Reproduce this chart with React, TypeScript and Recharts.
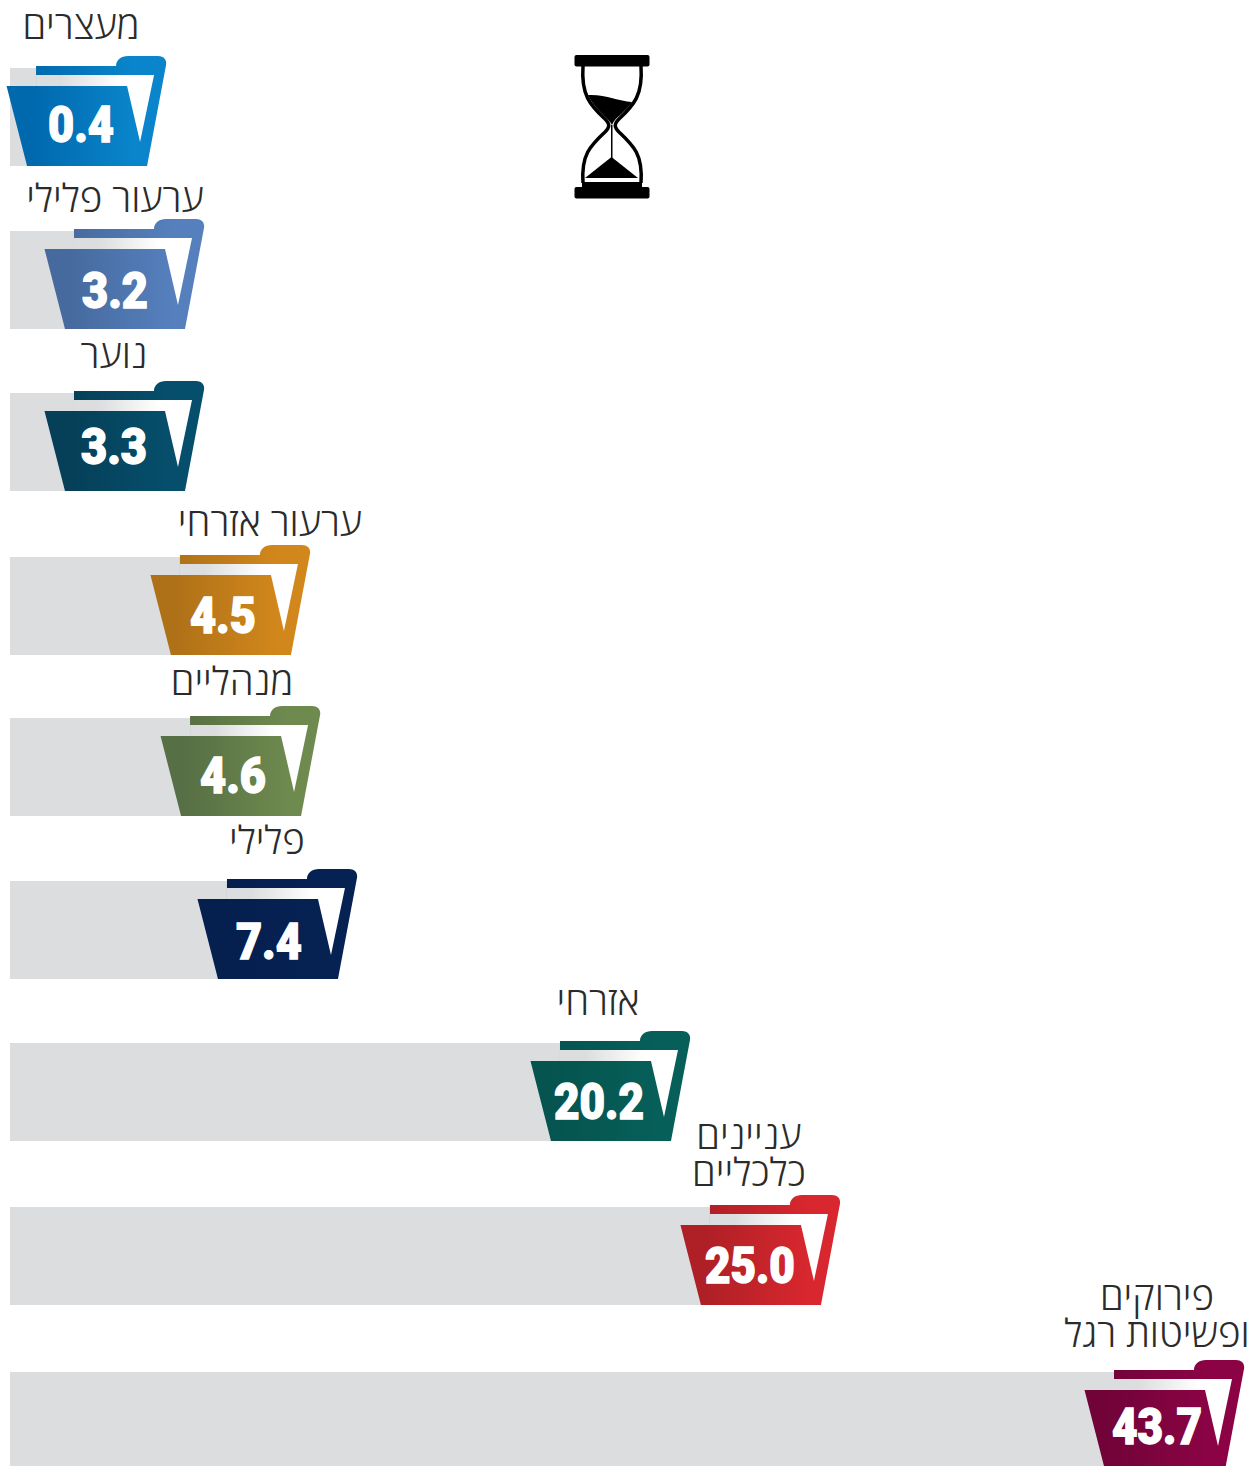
import { BarChart, Bar, XAxis, YAxis, LabelList } from 'recharts';

const categories = [
  'מעצרים',
  'ערעור פלילי',
  'נוער',
  'ערעור אזרחי',
  'מנהליים',
  'פלילי',
  'אזרחי',
  'עניינים\nכלכליים',
  'פירוקים\nופשיטות רגל',
];

// the numbers printed on the folders
const printedValues = ['0.4', '3.2', '3.3', '4.5', '4.6', '7.4', '20.2', '25.0', '43.7'];

// the bars in the picture are not proportional to the printed numbers,
// so this is the length, in the units of the last bar
const drawnLengths = [1.07, 2.57, 2.57, 6.76, 7.16, 8.62, 21.79, 27.72, 43.7];

const darkColors = ['#0068ad', '#466a9e', '#053f58', '#ae7118', '#576f44', '#051f4f', '#05544f', '#ae2026', '#720339'];
const lightColors = ['#0a85cb', '#5580bd', '#064f6c', '#d2871c', '#6f8a4f', '#052253', '#075f59', '#d8272e', '#8c0345'];

// hand nudges, the rows in the original are not laid out quite evenly
const rowShift = [0, 0, -1, 0, -2, -2, -3, -2, 0];
const valueShift = [
  [4, -2], [0, 1], [-1, -5], [2, 0], [2, -1], [1, 2], [-2, 0], [-1, 0], [2, -4],
];
const labelShift = [
  [4, -5], [0, 5], [-1, -1], [49, 3], [1, 1], [-1, -3], [-3, -4], [-2, 3], [2, -1],
];

const chartData = categories.map((name, i) => ({
  name,
  length: drawnLengths[i],
  value: printedValues[i],
}));

const PIXELS_PER_UNIT = 1105 / 43.7;
const PLOT_WIDTH = 1242;
const ROW = 163;
const FOLDER_TAIL = 129;

function FolderBar(props: any) {
  const { x, y, width, height, index } = props;
  const T = y + rowShift[index];
  const R = x + width + FOLDER_TAIL;
  const outer = [
    `M${R - 130} ${T - 2}`,
    `L${R - 50} ${T - 2}`,
    `C${R - 50} ${T - 8} ${R - 45} ${T - 12} ${R - 38} ${T - 12}`,
    `L${R - 8} ${T - 12}`,
    `C${R - 2} ${T - 12} ${R + 1} ${T - 8} ${R} ${T - 3}`,
    `L${R - 19} ${T + 98}`,
    `L${R - 139} ${T + 98}`,
    `L${R - 159.5} ${T + 18}`,
    `L${R - 130} ${T + 18}`,
    'Z',
  ].join(' ');
  const paper = [
    `M${R - 130} ${T + 7}`,
    `L${R - 12} ${T + 7}`,
    `L${R - 26} ${T + 74}`,
    `L${R - 39} ${T + 18}`,
    `L${R - 130} ${T + 18}`,
    'Z',
  ].join(' ');
  return (
    <g>
      <defs>
        <linearGradient id={`front${index}`} gradientUnits="userSpaceOnUse" x1={R - 159} x2={R} y1={0} y2={0}>
          <stop offset="0.15" stopColor={darkColors[index]} />
          <stop offset="0.8" stopColor={lightColors[index]} />
        </linearGradient>
        <linearGradient id={`paper${index}`} gradientUnits="userSpaceOnUse" x1={R - 129} x2={R - 12} y1={0} y2={0}>
          <stop offset="0.2" stopColor="#dcddde" />
          <stop offset="0.72" stopColor="#ffffff" />
        </linearGradient>
      </defs>
      <rect x={x} y={T} width={width + 1} height={height} fill="#dcddde" />
      <path d={outer} fill={`url(#front${index})`} />
      <path d={paper} fill={`url(#paper${index})`} />
    </g>
  );
}

function ValueText(props: any) {
  const { x, y, width, index, value } = props;
  const R = x + width + FOLDER_TAIL;
  const text = String(value);
  return (
    <text
      x={R - 89 + valueShift[index][0]}
      y={y + rowShift[index] + 76 + valueShift[index][1]}
      textAnchor="middle"
      fill="#ffffff"
      stroke="#ffffff"
      strokeWidth={1.4}
      fontFamily="Roboto, sans-serif"
      fontWeight={900}
      fontSize={50}
      textLength={text.length === 3 ? 66 : 90}
      lengthAdjust="spacingAndGlyphs"
    >
      {text}
    </text>
  );
}

function CategoryText(props: any) {
  const { x, y, width, index, value } = props;
  const R = x + width + FOLDER_TAIL;
  const lines = String(value).split('\n');
  const cx = R - 89 + labelShift[index][0];
  const bottom = y + rowShift[index] - 24 + labelShift[index][1];
  return (
    <text
      textAnchor="middle"
      direction="rtl"
      fill="#2b2b2b"
      fontFamily="'Open Sans', sans-serif"
      fontWeight={300}
      fontSize={38.5}
    >
      {lines.map((line, i) => (
        <tspan key={line} x={cx} y={bottom - (lines.length - 1 - i) * 37}>
          {line}
        </tspan>
      ))}
    </text>
  );
}

function Hourglass() {
  return (
    <svg width={1252} height={1466} style={{ position: 'absolute', left: 0, top: 0 }}>
      <rect x={574.5} y={55} width={75} height={11.5} rx={2} fill="#000" />
      <rect x={574.5} y={187} width={75} height={11.5} rx={2} fill="#000" />
      <rect x={582} y={182} width={60} height={6} fill="#000" />
      <path
        d="M583 66 C581 95 590 105 605 119 C610 124 610 127 605 132 C590 146 581 155 583 183"
        fill="none"
        stroke="#000"
        strokeWidth={3.5}
      />
      <path
        d="M641 66 C643 95 634 105 619 119 C614 124 614 127 619 132 C634 146 643 155 641 183"
        fill="none"
        stroke="#000"
        strokeWidth={3.5}
      />
      <path d="M588 95 C605 94 618 101 632 102 C626 112 614 118 612 125 C609 118 595 110 588 95 Z" fill="#000" />
      <path d="M611.5 157 L638 178 L585 178 Z" fill="#000" />
      <rect x={611} y={125} width={1.5} height={34} fill="#000" />
    </svg>
  );
}

export default function App() {
  return (
    <div style={{ position: 'absolute', left: 0, top: 0, width: 1252, height: 1466, overflow: 'hidden', background: '#fff' }}>
      <BarChart
        width={1252}
        height={35 + ROW * categories.length}
        data={chartData}
        layout="vertical"
        margin={{ top: 35, right: 0, bottom: 0, left: 10 }}
      >
        <XAxis type="number" hide domain={[0, PLOT_WIDTH / PIXELS_PER_UNIT]} />
        <YAxis type="category" dataKey="name" hide />
        <Bar dataKey="length" barSize={98} shape={FolderBar} isAnimationActive={false}>
          <LabelList dataKey="name" content={CategoryText} />
          <LabelList dataKey="value" content={ValueText} />
        </Bar>
      </BarChart>
      <Hourglass />
    </div>
  );
}
